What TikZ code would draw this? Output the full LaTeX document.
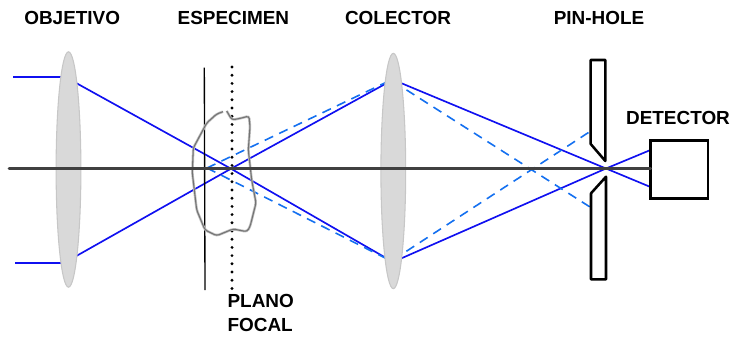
\documentclass[tikz,border=0pt]{standalone}
\usepackage{fontspec}
\setmainfont{Liberation Sans}
\usepackage{xcolor}
\usetikzlibrary{shapes.geometric}
\definecolor{ray}{HTML}{1010F0}
\definecolor{rayoff}{HTML}{1470F0}
\definecolor{lensgray}{HTML}{D9D9D9}
\definecolor{axisgray}{HTML}{404040}
\tikzset{
  x=0.75pt, y=-0.75pt,
  lens/.style={ellipse, draw=black!22, fill=lensgray, line width=0.8pt, minimum width=18.6pt, minimum height=176.5pt, inner sep=0pt, outer sep=0pt},
  lab/.style={font=\bfseries\fontsize{14.2}{18}\selectfont, inner sep=0pt, align=left},
  raysolid/.style={ray, line width=1.25pt},
  raydash/.style={rayoff, line width=1.2pt, dash pattern=on 7pt off 5pt},
  opticaxis/.style={axisgray, line width=2.1pt, line cap=round},
  plate/.style={black, line width=1.9pt, fill=white, line join=round},
  detbox/.style={draw=black, line width=1.9pt, fill=white, minimum width=43pt, minimum height=43.5pt, inner sep=0pt, outer sep=0pt},
  specimen/.style={line width=#1, rounded corners=2pt},
}
\begin{document}
\begin{tikzpicture}
  \useasboundingbox (0,0) rectangle (734,339);
  \coordinate (inA) at (13,77);
  \coordinate (inB) at (15,263);
  \coordinate (objA) at (68,77);
  \coordinate (objB) at (68,263);
  \coordinate (objC) at (68,78.5);
  \coordinate (objD) at (68,260.7);
  \coordinate (focus) at (231,168.7);
  \coordinate (offf) at (207,168);
  \coordinate (colA) at (393,79.7);
  \coordinate (colB) at (393,262);
  \coordinate (colC) at (393,79);
  \coordinate (colD) at (393,262);
  \coordinate (colE) at (393,81.3);
  \coordinate (colF) at (393,260);
  \coordinate (offA) at (590,207);
  \coordinate (offB) at (590,131.5);
  \coordinate (pin) at (606,168.5);
  \coordinate (detA) at (650.5,187);
  \coordinate (detB) at (650.5,150);
  \draw[raysolid] (inA) -- (objA);
  \draw[raysolid] (inB) -- (objB);
  \draw[raysolid] (objC) -- (focus) -- (colB) -- (pin) -- (detB);
  \draw[raysolid] (objD) -- (focus) -- (colA) -- (pin) -- (detA);
  \draw[raydash] (offf) -- (colC);
  \draw[raydash] (offf) -- (colD);
  \draw[raydash] (colE) -- (offA);
  \draw[raydash] (colF) -- (offB);
  \node[lens] (obj) at (68.5,169.5) {};
  \node[lens] (col) at (393.3,171) {};
  \draw[black, line width=1pt] (204.3,67.7) -- (205,290);
  \draw[black, line width=2.4pt, line cap=round, dash pattern=on 0pt off 6.15pt] (232,67) -- (232,292);
  \foreach \wd/\tone in {1.9pt/black!25, 0.8pt/black!55}
    \draw[\tone, specimen=\wd]
      (226.7,111) -- (232,120) -- (241.7,118) -- (249,116) -- (250,126.7) -- (248.3,150)
      -- (251.7,180) -- (256,203) -- (250,226.7) -- (247,231.7) -- (233,229) -- (216.7,235.7)
      -- (205,230) -- (196.7,210) -- (192.3,173) -- (193.3,148) -- (206.7,123) -- (216.7,114) -- (223,111.7);
  \node[detbox] (det) at (679.3,169.7) {};
  \coordinate (axisL) at (9,168.7);
  \draw[opticaxis] (axisL) -- (axisL -| det.west);
  \draw[plate] (590.7,60) -- (605.3,60) -- (605.3,161) -- (590.7,144) -- cycle;
  \draw[plate] (591,193.3) -- (606,176.7) -- (606,279.3) -- (591,279.3) -- cycle;
  \node[lab, anchor=base] (objlab) at (72.2,24.5) {OBJETIVO};
  \node[lab, anchor=base] (esplab) at (233.4,24.5) {ESPECIMEN};
  \node[lab, anchor=base] (collab) at (398,24.5) {COLECTOR};
  \node[lab, anchor=base] (pinlab) at (599,24.5) {PIN-HOLE};
  \node[lab, anchor=base] (detlab) at (678,124) {DETECTOR};
  \node[lab, anchor=north west] (planolab) at (227.3,294.5) {PLANO\\FOCAL};
\end{tikzpicture}
\end{document}
